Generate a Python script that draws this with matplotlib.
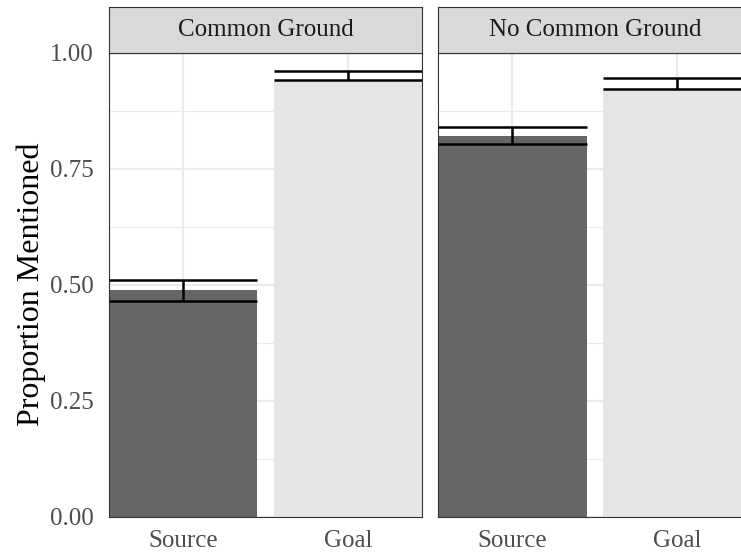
import numpy as np
import matplotlib
matplotlib.use("Agg")
import matplotlib.pyplot as plt

plt.rcParams['font.family'] = ['Liberation Serif', 'DejaVu Serif']

# data
conditions = ["Common Ground", "No Common Ground"]
roles = ["Source", "Goal"]
role_colors = ["#666666", "#E5E5E5"]

cg_mean = [0.488, 0.941]
cg_low = [0.465, 0.940]
cg_high = [0.510, 0.960]

ncg_mean = [0.820, 0.923]
ncg_low = [0.803, 0.922]
ncg_high = [0.839, 0.946]

panels = [(cg_mean, cg_low, cg_high), (ncg_mean, ncg_low, ncg_high)]
yticks = [0.0, 0.25, 0.50, 0.75, 1.00]

W, H = 741, 552
fig = plt.figure(figsize=(W / 100, H / 100), dpi=100)

# panel geometry in pixels (right panel runs off the canvas as in the reference)
panel_left = [109, 438.3]
panel_w = 313
panel_top, panel_bottom = 52.5, 516.5
strip_top = 7.3
border = "#333333"

x = np.arange(1, len(roles) + 1)
bar_w = 0.9

for i, (cond, (mean, low, high)) in enumerate(zip(conditions, panels)):
    ax = fig.add_axes([panel_left[i] / W, 1 - panel_bottom / H,
                       panel_w / W, (panel_bottom - panel_top) / H])
    ax.set_xlim(0.55, 2.45)
    ax.set_ylim(0, 1)
    ax.set_axisbelow(True)
    ax.set_yticks(yticks)
    ax.set_yticks(np.arange(0.125, 1.0, 0.25), minor=True)
    ax.set_xticks(x)
    ax.grid(True, which='major', color="#EBEBEB", lw=1.6)
    ax.grid(True, which='minor', axis='y', color="#EBEBEB", lw=0.8)
    ax.bar(x, mean, width=bar_w, color=role_colors, zorder=2)
    ax.hlines(low, x - bar_w / 2, x + bar_w / 2, color="black", lw=1.8, zorder=3)
    ax.hlines(high, x - bar_w / 2, x + bar_w / 2, color="black", lw=1.8, zorder=3)
    ax.vlines(x, low, high, color="black", lw=1.8, zorder=3)
    ax.tick_params(which='both', length=0, labelsize=18, labelcolor="#4D4D4D")
    ax.tick_params(axis='x', pad=10)
    ax.set_xticklabels(roles)
    if i == 0:
        ax.set_yticklabels([f"{t:.2f}" for t in yticks])
        ax.tick_params(axis='y', pad=11)
        ax.set_ylabel("Proportion Mentioned", fontsize=23, labelpad=3)
    else:
        ax.set_yticklabels([])
    for s in ax.spines.values():
        s.set_color(border)
        s.set_linewidth(0.8)

    # facet strip
    sx = fig.add_axes([panel_left[i] / W, 1 - panel_top / H,
                       panel_w / W, (panel_top - strip_top) / H])
    sx.set_facecolor("#D9D9D9")
    sx.set_xticks([])
    sx.set_yticks([])
    for s in sx.spines.values():
        s.set_color(border)
        s.set_linewidth(0.8)
    sx.text(0.5, 0.5, cond, ha='center', va='center', fontsize=18,
            color="#1A1A1A", transform=sx.transAxes)

fig.savefig("out.png", dpi=100)
